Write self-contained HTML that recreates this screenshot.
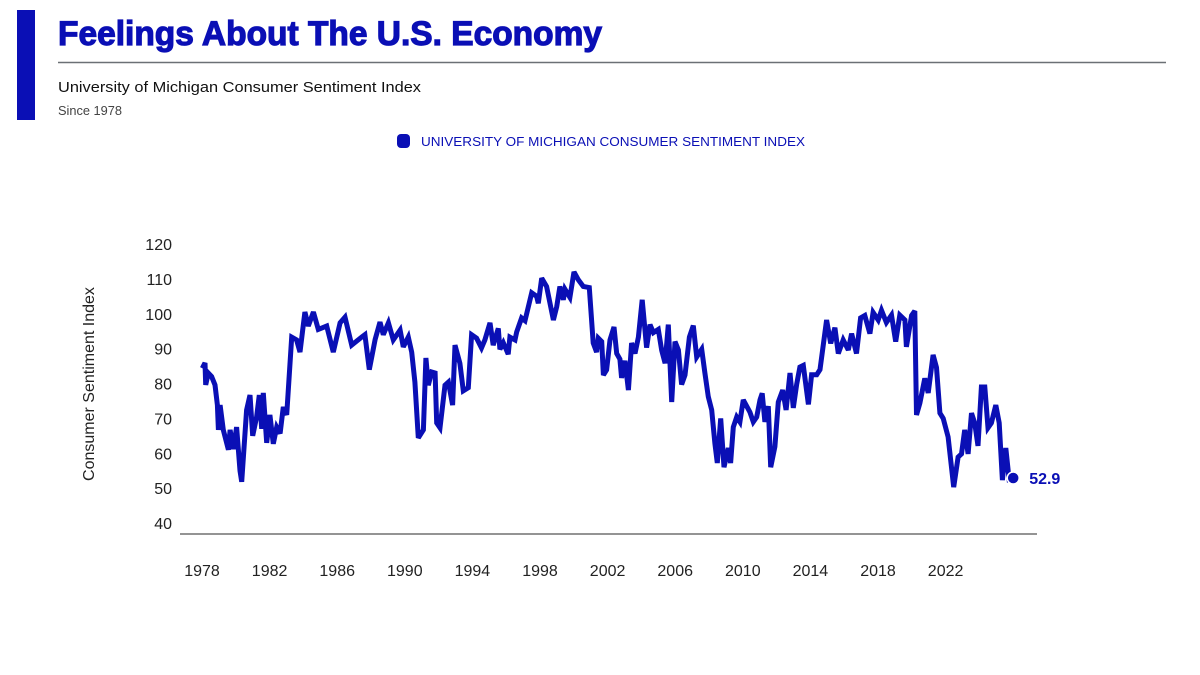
<!DOCTYPE html>
<html><head><meta charset="utf-8"><style>
html,body{margin:0;padding:0;background:#fff;}
svg{display:block;font-family:"Liberation Sans",Arial,sans-serif;}
</style></head><body>
<svg id="chart" width="1200" height="675" viewBox="0 0 1200 675">
<rect x="17" y="10" width="18" height="110" fill="#0a0fb5"/>
<text x="58" y="45" font-size="34" font-weight="bold" fill="#0a0fb5" stroke="#0a0fb5" stroke-width="1.2" textLength="544" lengthAdjust="spacingAndGlyphs">Feelings About The U.S. Economy</text>
<line x1="58" y1="62.5" x2="1166" y2="62.5" stroke="#6b7075" stroke-width="1.5"/>
<text x="58" y="92" font-size="15" fill="#111" textLength="363" lengthAdjust="spacingAndGlyphs">University of Michigan Consumer Sentiment Index</text>
<text x="58" y="115" font-size="13" fill="#444" textLength="64" lengthAdjust="spacingAndGlyphs">Since 1978</text>
<g>
<rect x="397" y="134" width="13" height="14" rx="4" fill="#0a0fb5"/>
<text x="421" y="146" font-size="13" fill="#0a0fb5" textLength="384" lengthAdjust="spacingAndGlyphs">UNIVERSITY OF MICHIGAN CONSUMER SENTIMENT INDEX</text>
</g>
<text transform="translate(94,384) rotate(-90)" text-anchor="middle" font-size="16" fill="#222">Consumer Sentiment Index</text>
<line x1="180" y1="534" x2="1037" y2="534" stroke="#555" stroke-width="1.3"/>
<g id="yticks"></g><g id="xticks"></g><g id="series"></g>
</svg>
<script>
const yTicks=[40,50,60,70,80,90,100,110,120];
const xTicks=[1978,1982,1986,1990,1994,1998,2002,2006,2010,2014,2018,2022];
const years=[1978.02,1978.18,1978.22,1978.37,1978.57,1978.77,1978.91,1978.97,1979.07,1979.26,1979.56,1979.66,1979.85,1980.05,1980.25,1980.35,1980.64,1980.84,1981.0,1981.23,1981.39,1981.53,1981.63,1981.83,1982.02,1982.22,1982.42,1982.62,1982.81,1983.01,1983.31,1983.6,1983.8,1984.09,1984.29,1984.59,1984.88,1985.38,1985.77,1986.17,1986.46,1986.86,1987.45,1987.64,1987.9,1988.24,1988.53,1988.73,1989.03,1989.32,1989.72,1989.91,1990.21,1990.41,1990.6,1990.8,1991.1,1991.25,1991.39,1991.59,1991.79,1991.89,1992.08,1992.38,1992.58,1992.83,1992.97,1993.26,1993.46,1993.76,1993.95,1994.25,1994.54,1994.74,1995.04,1995.23,1995.53,1995.63,1995.83,1996.12,1996.22,1996.52,1996.62,1996.91,1997.11,1997.51,1997.8,1997.9,1998.1,1998.39,1998.79,1998.99,1999.18,1999.38,1999.48,1999.77,2000.01,2000.27,2000.56,2000.92,2001.15,2001.35,2001.45,2001.65,2001.75,2001.94,2002.14,2002.38,2002.54,2002.73,2002.83,2003.03,2003.23,2003.42,2003.62,2003.82,2004.05,2004.31,2004.51,2004.71,2005.0,2005.2,2005.4,2005.59,2005.79,2005.99,2006.19,2006.38,2006.58,2006.84,2007.07,2007.27,2007.57,2007.76,2007.96,2008.16,2008.35,2008.49,2008.69,2008.89,2009.14,2009.28,2009.44,2009.64,2009.83,2010.03,2010.23,2010.42,2010.62,2010.82,2011.02,2011.15,2011.31,2011.51,2011.65,2011.9,2012.1,2012.36,2012.56,2012.79,2012.99,2013.19,2013.38,2013.58,2013.88,2014.07,2014.37,2014.57,2014.96,2015.2,2015.45,2015.65,2015.94,2016.24,2016.44,2016.73,2016.97,2017.22,2017.52,2017.71,2018.01,2018.21,2018.5,2018.8,2019.05,2019.29,2019.59,2019.68,2019.99,2020.18,2020.28,2020.48,2020.77,2020.97,2021.26,2021.46,2021.66,2021.86,2022.15,2022.48,2022.74,2022.94,2023.13,2023.33,2023.53,2023.72,2023.92,2024.12,2024.32,2024.51,2024.71,2024.97,2025.17,2025.36,2025.56,2025.76,2026.0];
const values=[84.4,85.9,79.6,83,82,79.6,73.8,66.7,73.8,66.7,61,66.7,61.2,67.5,55,51.8,72.4,76.7,65,70.4,76.7,67,77.3,63,71,62.7,67.5,65.7,73.3,71,93.3,92.5,89,100.5,96.5,100.5,95.5,96.5,89,97.4,99,91,93.3,94,84,92.6,97.6,94,97.4,92.5,95.3,90.5,93.3,89,80.4,64.4,66.7,87.3,79.5,83.3,83,68.7,67.3,79.5,80.4,73.8,91,85.8,77.9,78.8,94,93,90.2,92.5,97.4,91,95.8,89.8,91.7,88.4,93.3,92.5,94.8,98.8,98,106,105,103,110.2,107.8,98.2,102,107.8,104,107,104.7,112,109.7,107.8,107.5,91.6,89,93,92,82.4,83.9,92.5,96.2,88.6,87,81.6,86.5,78.1,91.6,88.6,93.3,104,90.3,96.9,94.6,95.5,89.5,85.8,96.9,74.7,92,89.6,79.7,82.4,93.3,96.6,87.6,89.8,83,76.2,72.4,62.8,57.2,70,56,61.5,57.2,67.5,70.4,69,75.3,73.5,71.8,69,70.4,75.3,77.2,69,73.5,56,61.9,74.7,78.1,72.4,83,73,79.8,84.7,85.2,74,82.5,82.5,84,98.2,91.5,96,88.6,92.5,89.6,94.3,88.6,98.8,99.5,94.3,100.4,98.2,101,97.5,99.6,92,99.6,98.2,90.5,99.5,100.8,71,74.4,81.5,77.3,88.2,84.6,71.5,70,64.7,50.3,58.9,59.8,66.7,59.8,71.5,68.7,62.1,79,79,67.3,68.7,73.8,68.7,52.3,61.5,52.5,52.9];
const lastLabel="52.9";
const NS="http://www.w3.org/2000/svg";
function xs(yr){return 202+(yr-1978)*16.9;}
function ys(v){return 244+(120-v)*3.4875;}
function mk(tag,attrs,parent){const e=document.createElementNS(NS,tag);for(const k in attrs)e.setAttribute(k,attrs[k]);parent.appendChild(e);return e;}
const yg=document.getElementById('yticks');
yTicks.forEach(t=>{const e=mk('text',{x:172,y:ys(t)+6,'text-anchor':'end','font-size':16,fill:'#222'},yg);


e.textContent=t;});
const xg=document.getElementById('xticks');
xTicks.forEach(t=>{const e=mk('text',{x:xs(t),y:576,'text-anchor':'middle','font-size':16,fill:'#222'},xg);


e.textContent=t;});
const sg=document.getElementById('series');
const d=years.map((y,i)=>(i?'L':'M')+xs(y).toFixed(1)+','+ys(values[i]).toFixed(1)).join(' ');
const p=mk('path',{d:d,fill:'none',stroke:'#0a0fb5','stroke-width':5,'stroke-linejoin':'miter','stroke-miterlimit':3},sg);


const n=years.length-1;
const c=mk('circle',{cx:xs(years[n]),cy:ys(values[n]),r:6,fill:'#0a0fb5',stroke:'#fff','stroke-width':1.5},sg);


const lt=mk('text',{x:xs(years[n])+16,y:ys(values[n])+6,'font-size':16,'font-weight':'bold',fill:'#0a0fb5'},sg);


lt.textContent=lastLabel;
</script>
</body></html>
